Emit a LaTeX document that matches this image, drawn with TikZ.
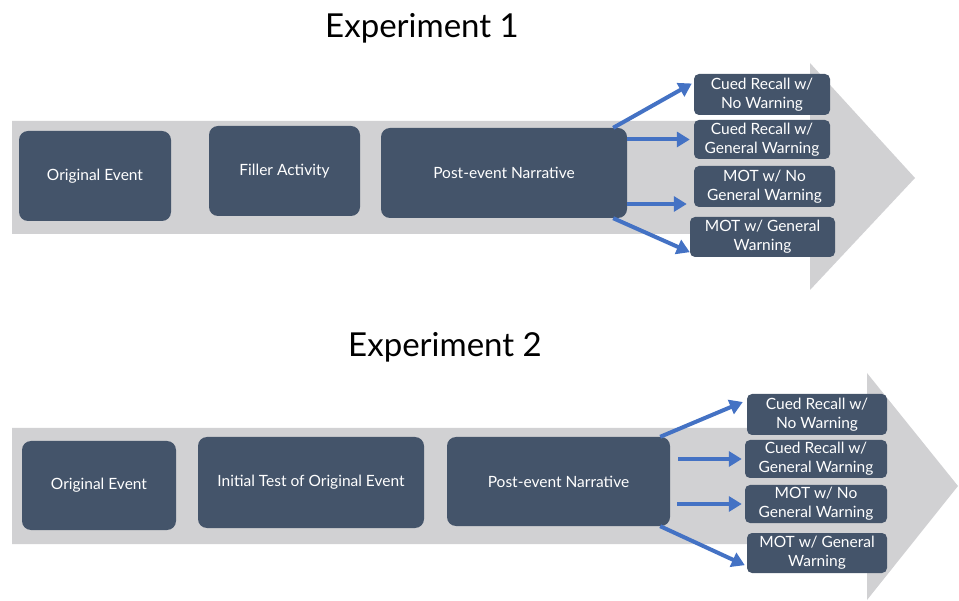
\documentclass[tikz,border=0pt]{standalone}
\usepackage{fontspec}
\setmainfont{Lato}
\usetikzlibrary{arrows.meta,positioning}
\definecolor{boxblue}{RGB}{68,84,106}
\definecolor{bandgray}{RGB}{209,209,211}
\definecolor{linkblue}{RGB}{68,114,196}

\begin{document}
\begin{tikzpicture}[
    x=1pt,y=-1pt,
    stage/.style={fill=boxblue, text=white, rounded corners=9pt, inner sep=0pt, align=center, font=\fontsize{15.5}{18}\selectfont},
    cond/.style={fill=boxblue, text=white, rounded corners=5pt, inner sep=0pt, align=center, font=\fontsize{15.5}{19}\selectfont},
    link/.style={draw=linkblue, line width=4pt, -{Triangle[length=13pt,width=15pt]}},
    heading/.style={font=\fontsize{33}{38}\selectfont}
]
    \useasboundingbox (0,0) rectangle (959,601);

    % Experiment 1
    \node[heading] (titleA) at (422,28) {Experiment 1};
    \fill[bandgray] (12,121) -- (810,121) -- (810,63) -- (915,178) -- (810,290) -- (810,234) -- (12,234) -- cycle;

    \node[stage, minimum width=152pt, minimum height=90pt] (origA) at (95,176)    {Original Event};
    \node[stage, minimum width=151pt, minimum height=90pt] (fillA) at (284.5,171) {Filler Activity};
    \node[stage, minimum width=246pt, minimum height=90pt] (postA) at (504,173)   {Post-event Narrative};

    \node[cond, minimum width=136pt, minimum height=41pt] (condA1) at (762,94.5)   {Cued Recall w/\\No Warning};
    \node[cond, minimum width=136pt, minimum height=39pt] (condA2) at (762,139.5)  {Cued Recall w/\\General Warning};
    \node[cond, minimum width=141pt, minimum height=41pt] (condA3) at (764.5,186.5){MOT w/ No\\General Warning};
    \node[cond, minimum width=145pt, minimum height=40pt] (condA4) at (762.5,237)  {MOT w/ General\\Warning};

    \draw[link] ([xshift=-14pt]postA.north east) -- ([xshift=-2pt,yshift=11pt]condA1.west);
    \draw[link] (postA.east |- condA2.west) -- ([xshift=-4pt]condA2.west);
    \draw[link] ([yshift=-17.5pt]postA.east |- condA3.west) -- ([xshift=-7pt,yshift=-17.5pt]condA3.west);
    \draw[link] ([xshift=-14pt]postA.south east) -- ([yshift=5pt]condA4.south west);

    % Experiment 2
    \node[heading] (titleB) at (445,347) {Experiment 2};
    \fill[bandgray] (12,428) -- (867,428) -- (867,373) -- (958,486) -- (867,600) -- (867,544) -- (12,544) -- cycle;

    \node[stage, minimum width=154pt, minimum height=89pt] (origB) at (99,485.5)   {Original Event};
    \node[stage, minimum width=226pt, minimum height=91pt] (testB) at (311,482.5)  {Initial Test of Original Event};
    \node[stage, minimum width=223pt, minimum height=89pt] (postB) at (558.5,481.5){Post-event Narrative};

    \node[cond, minimum width=140pt, minimum height=41pt] (condB1) at (817,414.5) {Cued Recall w/\\No Warning};
    \node[cond, minimum width=142pt, minimum height=38pt] (condB2) at (816,459)   {Cued Recall w/\\General Warning};
    \node[cond, minimum width=142pt, minimum height=38pt] (condB3) at (816,504)   {MOT w/ No\\General Warning};
    \node[cond, minimum width=140pt, minimum height=40pt] (condB4) at (817,553)   {MOT w/ General\\Warning};

    \draw[link] ([xshift=-10pt]postB.north east) -- ([xshift=-4pt,yshift=12.5pt]condB1.west);
    \draw[link] ([xshift=8pt]postB.east |- condB2.west) -- ([xshift=-3pt]condB2.west);
    \draw[link] ([xshift=7pt]postB.east |- condB3.west) -- ([xshift=-3pt]condB3.west);
    \draw[link] ([xshift=-10pt]postB.south east) -- ([xshift=-2pt,yshift=8pt]condB4.south west);
\end{tikzpicture}
\end{document}
